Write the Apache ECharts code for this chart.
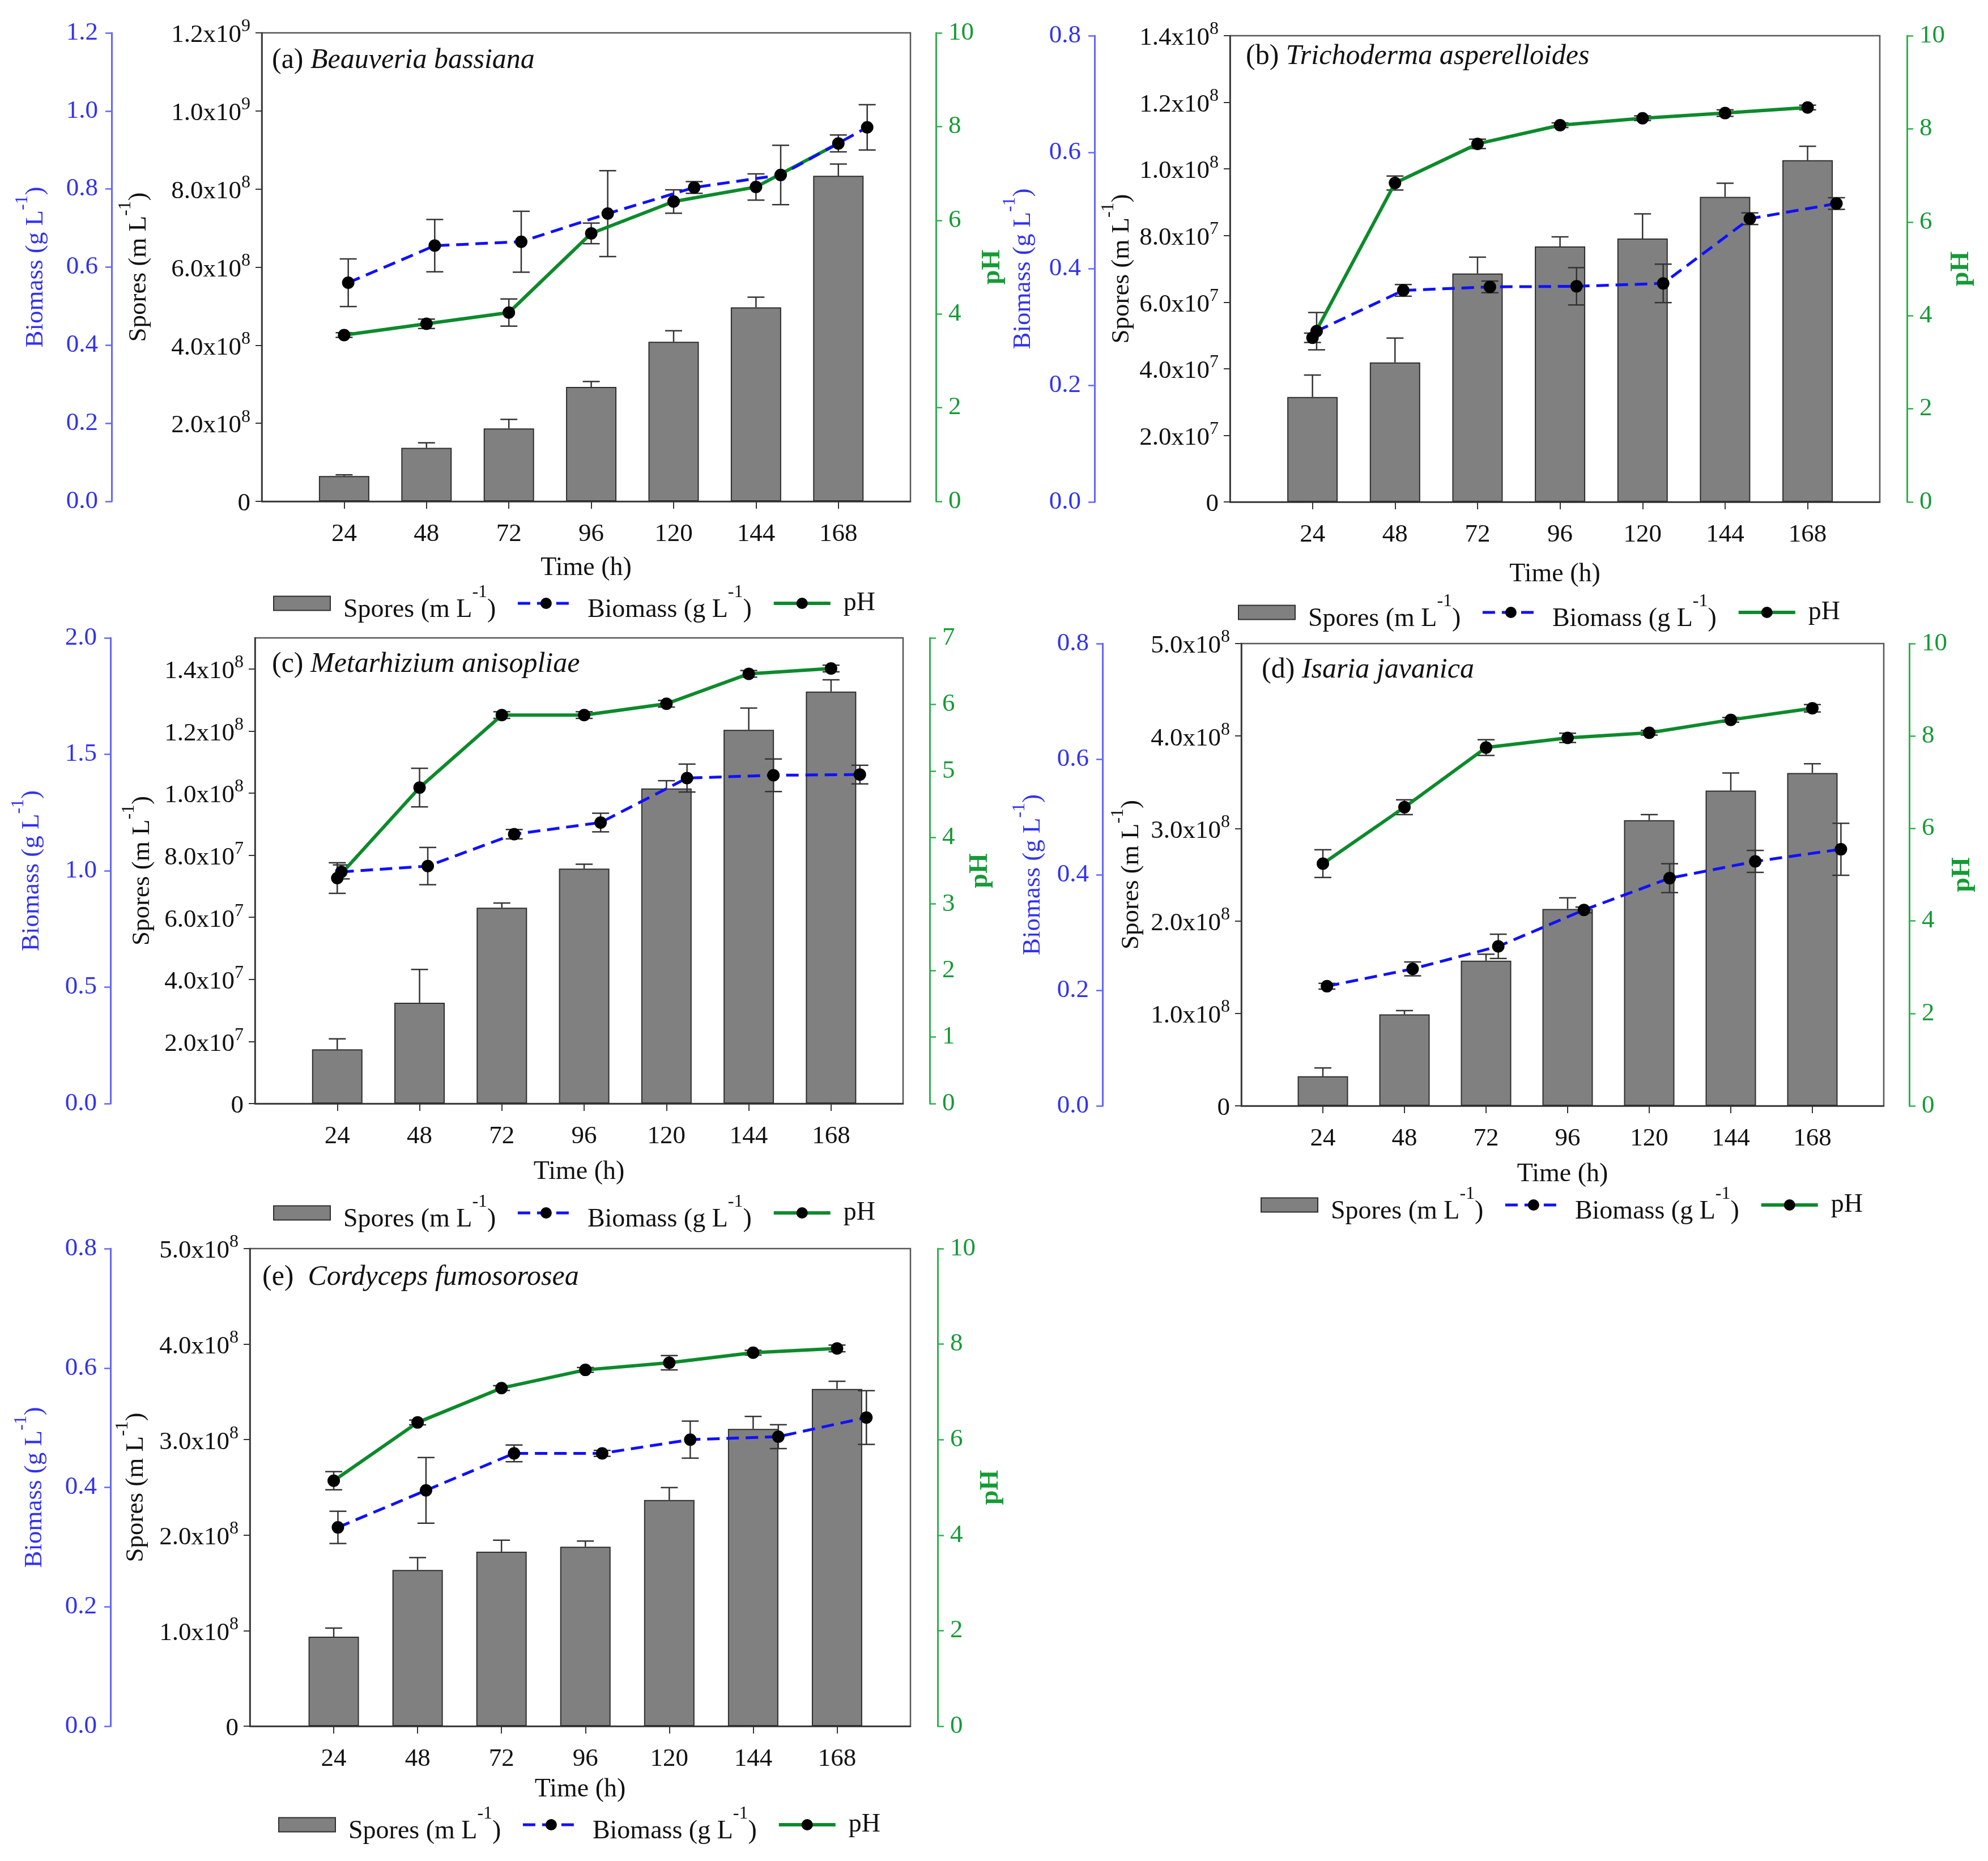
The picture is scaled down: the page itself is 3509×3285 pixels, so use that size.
<!DOCTYPE html>
<html>
<head>
<meta charset="utf-8">
<title>Spores, biomass and pH of five fungi</title>
<script src="https://cdn.jsdelivr.net/npm/echarts@6/dist/echarts.min.js"></script>
<style>
html, body { margin: 0; padding: 0; background: #fff; }
#main { width: 3509px; height: 3285px; }
</style>
</head>
<body>
<div id="main"></div>
<script>
var hours = [24, 48, 72, 96, 120, 144, 168];

// (a) Beauveria bassiana
var sporesA = [0.65e8, 1.37e8, 1.87e8, 2.93e8, 4.09e8, 4.97e8, 8.34e8];
var sporesErrA = [0.03e8, 0.13e8, 0.23e8, 0.14e8, 0.28e8, 0.26e8, 0.30e8];
var biomassA = [0.56, 0.655, 0.665, 0.737, 0.804, 0.836, 0.958];
var biomassErrA = [0.061, 0.067, 0.078, 0.11, 0.015, 0.076, 0.058];
var phA = [3.55, 3.79, 4.03, 5.72, 6.40, 6.71, 7.64];
var phErrA = [0.05, 0.1, 0.29, 0.22, 0.25, 0.28, 0.18];

// (b) Trichoderma asperelloides
var sporesB = [3.15e7, 4.19e7, 6.86e7, 7.67e7, 7.91e7, 9.16e7, 10.26e7];
var sporesErrB = [0.66e7, 0.73e7, 0.49e7, 0.29e7, 0.74e7, 0.41e7, 0.42e7];
var biomassB = [0.293, 0.363, 0.369, 0.370, 0.375, 0.486, 0.512];
var biomassErrB = [0.032, 0.01, 0.01, 0.032, 0.033, 0.01, 0.01];
var phB = [3.52, 6.84, 7.68, 8.08, 8.23, 8.34, 8.46];
var phErrB = [0.1, 0.15, 0.1, 0.05, 0.05, 0.07, 0.05];

// (c) Metarhizium anisopliae
var sporesC = [1.745e7, 3.25e7, 6.31e7, 7.57e7, 10.15e7, 12.04e7, 13.27e7];
var sporesErrC = [0.34e7, 1.07e7, 0.15e7, 0.14e7, 0.25e7, 0.70e7, 0.38e7];
var biomassC = [0.995, 1.02, 1.157, 1.207, 1.398, 1.41, 1.413];
var biomassErrC = [0.03, 0.08, 0.02, 0.04, 0.06, 0.07, 0.04];
var phC = [3.39, 4.75, 5.84, 5.84, 6.01, 6.46, 6.54];
var phErrC = [0.23, 0.29, 0.05, 0.05, 0.05, 0.05, 0.05];

// (d) Isaria javanica
var sporesD = [0.32e8, 0.99e8, 1.57e8, 2.13e8, 3.09e8, 3.41e8, 3.60e8];
var sporesErrD = [0.09e8, 0.04e8, 0.07e8, 0.12e8, 0.06e8, 0.19e8, 0.10e8];
var biomassD = [0.207, 0.237, 0.276, 0.339, 0.394, 0.423, 0.444];
var biomassErrD = [0.005, 0.012, 0.021, 0.005, 0.025, 0.019, 0.045];
var phD = [5.24, 6.46, 7.75, 7.96, 8.07, 8.35, 8.60];
var phErrD = [0.3, 0.16, 0.17, 0.1, 0.05, 0.05, 0.08];

// (e) Cordyceps fumosorosea
var sporesE = [0.937e8, 1.635e8, 1.827e8, 1.878e8, 2.368e8, 3.113e8, 3.531e8];
var sporesErrE = [0.09e8, 0.13e8, 0.12e8, 0.06e8, 0.13e8, 0.13e8, 0.08e8];
var biomassE = [0.333, 0.395, 0.457, 0.457, 0.48, 0.485, 0.517];
var biomassErrE = [0.027, 0.055, 0.014, 0.005, 0.031, 0.02, 0.045];
var phE = [5.14, 6.36, 7.08, 7.46, 7.61, 7.82, 7.91];
var phErrE = [0.19, 0.05, 0.05, 0.05, 0.15, 0.05, 0.07];

// tick values
var sporeTicksA = [0, 2e8, 4e8, 6e8, 8e8, 1e9, 1.2e9];
var sporeTicksB = [0, 2e7, 4e7, 6e7, 8e7, 1e8, 1.2e8, 1.4e8];
var sporeTicksC = [0, 2e7, 4e7, 6e7, 8e7, 1e8, 1.2e8, 1.4e8];
var sporeTicksDE = [0, 1e8, 2e8, 3e8, 4e8, 5e8];
var biomassTicksA = [0, 0.2, 0.4, 0.6, 0.8, 1.0, 1.2];
var biomassTicks08 = [0, 0.2, 0.4, 0.6, 0.8];
var biomassTicksC = [0, 0.5, 1.0, 1.5, 2.0];
var phTicks10 = [0, 2, 4, 6, 8, 10];
var phTicksC = [0, 1, 2, 3, 4, 5, 6, 7];

var FONT = "'Liberation Serif', 'DejaVu Serif', 'Times New Roman', serif";
var BLUE_AXIS = '#6464ff';
var BLUE_TEXT = '#3232ee';
var GREEN_AXIS = '#2fb04c';
var GREEN_TEXT = '#169a36';
var TICK_FS = 45;

var panels = [
  { tag: '(a) ', species: 'Beauveria bassiana',
    spores: sporesA, sporesErr: sporesErrA, biomass: biomassA, biomassErr: biomassErrA, ph: phA, phErr: phErrA,
    sporeTicks: sporeTicksA, sporeMax: 1.2e9, bioTicks: biomassTicksA, bioMax: 1.2, phTicks: phTicks10, phMax: 10,
    grid: { left: 462, top: 58, width: 1145, height: 827 },
    bioOffset: 265, phOffset: 45, bioGap: 111, sporeGap: 194, phGap: 77, timeGap: 95,
    title: [480, 82], legend: [482, 1030] },
  { tag: '(b) ', species: 'Trichoderma asperelloides',
    spores: sporesB, sporesErr: sporesErrB, biomass: biomassB, biomassErr: biomassErrB, ph: phB, phErr: phErrB,
    sporeTicks: sporeTicksB, sporeMax: 1.4e8, bioTicks: biomassTicks08, bioMax: 0.8, phTicks: phTicks10, phMax: 10,
    grid: { left: 2171, top: 63, width: 1147, height: 823 },
    bioOffset: 239, phOffset: 48, bioGap: 103, sporeGap: 168, phGap: 73, timeGap: 105,
    title: [2199, 75], legend: [2185, 1046] },
  { tag: '(c) ', species: 'Metarhizium anisopliae',
    spores: sporesC, sporesErr: sporesErrC, biomass: biomassC, biomassErr: biomassErrC, ph: phC, phErr: phErrC,
    sporeTicks: sporeTicksC, sporeMax: 1.5e8, bioTicks: biomassTicksC, bioMax: 2.0, phTicks: phTicksC, phMax: 7,
    grid: { left: 450, top: 1126, width: 1144, height: 822 },
    bioOffset: 255, phOffset: 47, bioGap: 116, sporeGap: 176, phGap: 66, timeGap: 98,
    title: [480, 1148], legend: [482, 2106] },
  { tag: '(d) ', species: 'Isaria javanica',
    spores: sporesD, sporesErr: sporesErrD, biomass: biomassD, biomassErr: biomassErrD, ph: phD, phErr: phErrD,
    sporeTicks: sporeTicksDE, sporeMax: 5e8, bioTicks: biomassTicks08, bioMax: 0.8, phTicks: phTicks10, phMax: 10,
    grid: { left: 2191, top: 1136, width: 1134, height: 816 },
    bioOffset: 245, phOffset: 45, bioGap: 100, sporeGap: 171, phGap: 69, timeGap: 98,
    title: [2227, 1158], legend: [2225, 2092] },
  { tag: '(e)  ', species: 'Cordyceps fumosorosea',
    spores: sporesE, sporesErr: sporesErrE, biomass: biomassE, biomassErr: biomassErrE, ph: phE, phErr: phErrE,
    sporeTicks: sporeTicksDE, sporeMax: 5e8, bioTicks: biomassTicks08, bioMax: 0.8, phTicks: phTicks10, phMax: 10,
    grid: { left: 441, top: 2204, width: 1166, height: 843 },
    bioOffset: 246, phOffset: 48, bioGap: 111, sporeGap: 178, phGap: 57, timeGap: 89,
    title: [463, 2230], legend: [491, 3186] }
];

var X_MAX = 189;       // hours across the plot box
var BIO_STRETCH = 1.05; // biomass points sit on a slightly wider time scale

function sci(v) {
  if (v === 0) return '{m|0}';
  var e = Math.floor(Math.log10(v) + 1e-9);
  var m = v / Math.pow(10, e);
  return '{m|' + m.toFixed(1) + 'x10}{e|' + e + '}';
}

var supRich = {
  m: { fontFamily: FONT, fontSize: TICK_FS, lineHeight: 54, verticalAlign: 'bottom', color: '#111' },
  e: { fontFamily: FONT, fontSize: 32, verticalAlign: 'top', color: '#111' }
};

function nameRich(color) {
  return {
    m: { fontFamily: FONT, fontSize: 45, fontWeight: 'normal', verticalAlign: 'bottom', color: color },
    e: { fontFamily: FONT, fontSize: 32, fontWeight: 'normal', verticalAlign: 'top', padding: [0, 0, 30, 0], color: color }
  };
}

function errBoth(params, api) {
  var x = api.value(0), y = api.value(1), e = api.value(2);
  var p1 = api.coord([x, y + e]), p2 = api.coord([x, y - e]);
  var w = 15, st = { stroke: '#333', lineWidth: 2.5 };
  return { type: 'group', children: [
    { type: 'line', shape: { x1: p1[0], y1: p1[1], x2: p2[0], y2: p2[1] }, style: st },
    { type: 'line', shape: { x1: p1[0] - w, y1: p1[1], x2: p1[0] + w, y2: p1[1] }, style: st },
    { type: 'line', shape: { x1: p2[0] - w, y1: p2[1], x2: p2[0] + w, y2: p2[1] }, style: st }
  ] };
}

function errUp(params, api) {
  var x = api.value(0), y = api.value(1), e = api.value(2);
  var p1 = api.coord([x, y + e]), p2 = api.coord([x, y]);
  var w = 15, st = { stroke: '#333', lineWidth: 2.5 };
  return { type: 'group', children: [
    { type: 'line', shape: { x1: p1[0], y1: p1[1], x2: p2[0], y2: p2[1] }, style: st },
    { type: 'line', shape: { x1: p1[0] - w, y1: p1[1], x2: p1[0] + w, y2: p1[1] }, style: st }
  ] };
}

function pairs(vals) { return hours.map(function (h, k) { return [h, vals[k]]; }); }
function triples(vals, errs) { return hours.map(function (h, k) { return [h, vals[k], errs[k]]; }); }

var legendNames = {
  Spores: '{m|Spores (m L}{e|-1}{m|)}',
  Biomass: '{m|Biomass (g L}{e|-1}{m|)}',
  pH: '{m|pH}'
};

var option = {
  backgroundColor: '#fff',
  animation: false,
  textStyle: { fontFamily: FONT },
  title: [], grid: [], xAxis: [], yAxis: [], series: [], legend: []
};

panels.forEach(function (p, i) {
  option.title.push({
    left: p.title[0], top: p.title[1], padding: 0,
    text: '{n|' + p.tag + '}{i|' + p.species + '}',
    textStyle: { fontFamily: FONT, fontWeight: 'normal', fontSize: 50, rich: {
      n: { fontFamily: FONT, fontSize: 50, fontWeight: 'normal', color: '#111' },
      i: { fontFamily: FONT, fontSize: 50, fontWeight: 'normal', fontStyle: 'italic', color: '#111' }
    } }
  });

  option.grid.push({
    left: p.grid.left, top: p.grid.top, width: p.grid.width, height: p.grid.height,
    show: true, borderColor: '#555', borderWidth: 2.5, backgroundColor: 'transparent'
  });

  option.xAxis.push({
    gridIndex: i, type: 'value', min: 0, max: X_MAX, position: 'bottom',
    axisLine: { show: true, onZero: false, lineStyle: { color: '#333', width: 2.5 } },
    axisTick: { show: true, length: 13, customValues: hours, lineStyle: { color: '#333', width: 2 } },
    axisLabel: { customValues: hours, margin: 36, fontFamily: FONT, fontSize: TICK_FS, color: '#111' },
    splitLine: { show: false },
    name: 'Time (h)', nameLocation: 'middle', nameGap: p.timeGap,
    nameTextStyle: { fontFamily: FONT, fontSize: 46, color: '#111' }
  });
  option.xAxis.push({
    gridIndex: i, type: 'value', min: 0, max: X_MAX / BIO_STRETCH, show: false
  });

  option.yAxis.push({
    gridIndex: i, type: 'value', position: 'left', offset: 0, min: 0, max: p.sporeMax,
    axisLine: { show: true, onZero: false, lineStyle: { color: '#333', width: 2.5 } },
    axisTick: { show: true, length: 11, customValues: p.sporeTicks, lineStyle: { color: '#333', width: 2 } },
    axisLabel: { customValues: p.sporeTicks, formatter: sci, margin: 20, fontFamily: FONT, rich: supRich },
    splitLine: { show: false },
    name: '{m|Spores (m L}{e|-1}{m|)}', nameLocation: 'middle', nameGap: p.sporeGap,
    nameTextStyle: { fontFamily: FONT, rich: nameRich('#111') }
  });
  option.yAxis.push({
    gridIndex: i, type: 'value', position: 'left', offset: p.bioOffset, min: 0, max: p.bioMax,
    axisLine: { show: true, onZero: false, lineStyle: { color: BLUE_AXIS, width: 3 } },
    axisTick: { show: true, length: 11, customValues: p.bioTicks, lineStyle: { color: BLUE_AXIS, width: 2.5 } },
    axisLabel: { customValues: p.bioTicks, margin: 24, fontFamily: FONT, fontSize: TICK_FS, color: BLUE_TEXT,
      formatter: function (v) { return v.toFixed(1); } },
    splitLine: { show: false },
    name: '{m|Biomass (g L}{e|-1}{m|)}', nameLocation: 'middle', nameGap: p.bioGap,
    nameTextStyle: { fontFamily: FONT, rich: nameRich(BLUE_TEXT) }
  });
  option.yAxis.push({
    gridIndex: i, type: 'value', position: 'right', offset: p.phOffset, min: 0, max: p.phMax,
    axisLine: { show: true, onZero: false, lineStyle: { color: GREEN_AXIS, width: 3 } },
    axisTick: { show: true, length: 11, customValues: p.phTicks, lineStyle: { color: GREEN_AXIS, width: 2.5 } },
    axisLabel: { customValues: p.phTicks, margin: 22, fontFamily: FONT, fontSize: TICK_FS, color: GREEN_TEXT },
    splitLine: { show: false },
    name: 'pH', nameLocation: 'middle', nameGap: p.phGap,
    nameTextStyle: { fontFamily: FONT, fontSize: 46, fontWeight: 'bold', color: GREEN_TEXT }
  });

  var xi = 2 * i, yi = 3 * i;
  option.series.push({
    type: 'bar', name: 'Spores', xAxisIndex: xi, yAxisIndex: yi,
    data: pairs(p.spores), barWidth: 89,
    itemStyle: { color: '#808080', borderColor: '#2e2e2e', borderWidth: 2 }, z: 2
  });
  option.series.push({
    type: 'custom', xAxisIndex: xi, yAxisIndex: yi, renderItem: errUp,
    data: triples(p.spores, p.sporesErr), z: 3
  });
  option.series.push({
    type: 'line', name: 'pH', xAxisIndex: xi, yAxisIndex: yi + 2,
    data: pairs(p.ph), symbol: 'circle', symbolSize: 22,
    lineStyle: { color: '#0d8a2c', width: 6 }, itemStyle: { color: '#000' }, z: 5
  });
  option.series.push({
    type: 'custom', xAxisIndex: xi, yAxisIndex: yi + 2, renderItem: errBoth,
    data: triples(p.ph, p.phErr), z: 4
  });
  option.series.push({
    type: 'line', name: 'Biomass', xAxisIndex: xi + 1, yAxisIndex: yi + 1,
    data: pairs(p.biomass), symbol: 'circle', symbolSize: 22,
    lineStyle: { color: '#1010ff', width: 5, type: [22, 12] }, itemStyle: { color: '#000' }, z: 5
  });
  option.series.push({
    type: 'custom', xAxisIndex: xi + 1, yAxisIndex: yi + 1, renderItem: errBoth,
    data: triples(p.biomass, p.biomassErr), z: 4
  });

  option.legend.push({
    left: p.legend[0], top: p.legend[1], padding: 0, orient: 'horizontal',
    itemWidth: 100, itemHeight: 25, itemGap: 36, selectedMode: false,
    lineStyle: { width: 'inherit' },
    data: [{ name: 'Spores', icon: 'rect' }, { name: 'Biomass' }, { name: 'pH' }],
    formatter: function (name) { return '{g|}' + legendNames[name]; },
    textStyle: { fontFamily: FONT, fontSize: 46, rich: {
      g: { width: 18 },
      m: { fontFamily: FONT, fontSize: 46, verticalAlign: 'bottom', color: '#111' },
      e: { fontFamily: FONT, fontSize: 32, verticalAlign: 'top', padding: [0, 0, 38, 0], color: '#111' }
    } }
  });
});

var chart = echarts.init(document.getElementById('main'));
chart.setOption(option);
</script>
</body>
</html>
